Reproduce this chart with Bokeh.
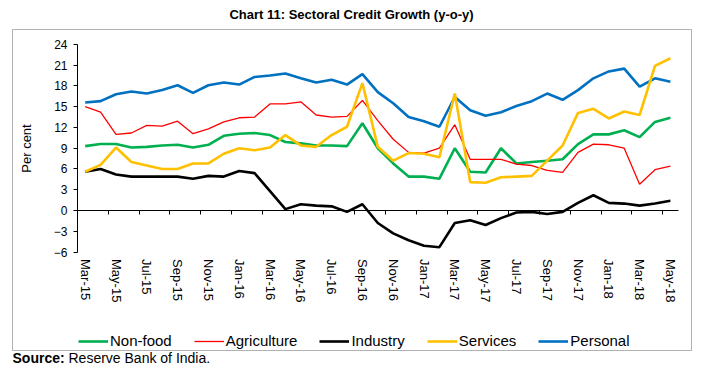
from bokeh.plotting import figure
from bokeh.models import (FixedTicker, LinearAxis, Legend, LegendItem, Label,
                          BoxAnnotation, Range1d)
from bokeh.embed import file_html
from bokeh.resources import INLINE

# ---------------- data ----------------
months = ["Mar-15", "Apr-15", "May-15", "Jun-15", "Jul-15", "Aug-15", "Sep-15",
          "Oct-15", "Nov-15", "Dec-15", "Jan-16", "Feb-16", "Mar-16", "Apr-16",
          "May-16", "Jun-16", "Jul-16", "Aug-16", "Sep-16", "Oct-16", "Nov-16",
          "Dec-16", "Jan-17", "Feb-17", "Mar-17", "Apr-17", "May-17", "Jun-17",
          "Jul-17", "Aug-17", "Sep-17", "Oct-17", "Nov-17", "Dec-17", "Jan-18",
          "Feb-18", "Mar-18", "Apr-18", "May-18"]

non_food = [9.3, 9.6, 9.6, 9.1, 9.2, 9.4, 9.5, 9.1, 9.5, 10.8, 11.1, 11.2, 10.9,
            9.9, 9.7, 9.4, 9.4, 9.3, 12.6, 9.0, 6.8, 4.9, 4.9, 4.6, 9.0, 5.6,
            5.5, 9.0, 6.8, 7.0, 7.2, 7.4, 9.6, 11.0, 11.0, 11.6, 10.6, 12.8, 13.4]
agriculture = [15.0, 14.2, 11.0, 11.2, 12.3, 12.2, 12.9, 11.1, 11.8, 12.8, 13.4,
               13.5, 15.4, 15.4, 15.7, 13.8, 13.5, 13.6, 15.9, 13.0, 10.3, 8.4,
               8.3, 9.0, 12.4, 7.4, 7.4, 7.4, 6.7, 6.5, 5.8, 5.5, 8.4, 9.6, 9.5,
               9.0, 3.8, 5.9, 6.4]
industry = [5.6, 6.0, 5.2, 4.9, 4.9, 4.9, 4.9, 4.6, 5.0, 4.9, 5.7, 5.4, 2.8, 0.2,
            0.9, 0.7, 0.6, -0.2, 0.9, -1.8, -3.3, -4.3, -5.1, -5.3, -1.8, -1.4,
            -2.1, -1.1, -0.3, -0.2, -0.5, -0.2, 1.1, 2.2, 1.1, 1.0, 0.7, 1.0, 1.4]
services = [5.6, 6.6, 9.1, 7.0, 6.5, 6.0, 6.0, 6.8, 6.8, 8.2, 9.0, 8.7, 9.1, 10.9,
            9.4, 9.2, 10.9, 12.1, 18.4, 9.2, 7.2, 8.3, 8.2, 7.7, 16.9, 4.1, 4.0,
            4.8, 4.9, 5.0, 7.2, 9.4, 14.1, 14.7, 13.3, 14.3, 13.8, 20.9, 22.0]
personal = [15.6, 15.8, 16.8, 17.2, 16.9, 17.4, 18.1, 17.0, 18.1, 18.5, 18.2,
            19.3, 19.5, 19.8, 19.1, 18.5, 18.9, 18.2, 19.7, 17.1, 15.5, 13.5,
            12.9, 12.1, 16.4, 14.5, 13.7, 14.2, 15.1, 15.8, 16.9, 16.0, 17.4,
            19.1, 20.1, 20.5, 17.9, 19.1, 18.6]

y_ticks = [-6, -3, 0, 3, 6, 9, 12, 15, 18, 21, 24]
y_min, y_max = -6, 24

title_text = "Chart 11: Sectoral Credit Growth (y-o-y)"
y_label = "Per cent"
source_bold = "Source:"
source_text = "Reserve Bank of India."

# ---------------- geometry (pixels on the canvas) ----------------
W, H = 693, 364
X0_PX, DX_PX = 84.7, 15.4      # pixel of first category, pixels per category
Y0_PX, DY_PX = 210.0, 6.92     # pixel of value 0, pixels per unit
FONT = "Liberation Sans"

def fx(px):
    return (px - X0_PX) / DX_PX
def fy(py):
    return (Y0_PX - py) / DY_PX

n = len(months)
x = list(range(n))
xr = Range1d(fx(0), fx(W))
yr = Range1d(fy(H), fy(0))

p = figure(width=W, height=H, x_range=xr, y_range=yr, output_backend="svg",
           toolbar_location=None, x_axis_location=None, y_axis_location=None,
           min_border=0, background_fill_color="white",
           border_fill_color="white")
p.title.visible = False
p.outline_line_color = None
p.grid.visible = False

# y axis (drawn at the left edge of the category area)
ya = LinearAxis(fixed_location=-0.5, bounds=(y_min, y_max),
                ticker=FixedTicker(ticks=y_ticks),
                major_tick_out=4, major_tick_in=0, minor_tick_line_color=None,
                axis_line_color="black", major_tick_line_color="black",
                major_label_standoff=6, major_label_text_font=FONT,
                major_label_text_font_size="12px",
                major_label_text_color="black",
                axis_label=y_label, axis_label_text_font=FONT,
                axis_label_text_font_size="13px",
                axis_label_text_font_style="normal",
                axis_label_text_color="black", axis_label_standoff=17)
p.add_layout(ya, "left")

# x labels at the bottom of the value area
lab_ticks = list(range(0, n, 2))
xa_lab = LinearAxis(fixed_location=y_min, ticker=FixedTicker(ticks=lab_ticks),
                    major_label_overrides={i: months[i] for i in lab_ticks},
                    major_label_orientation="vertical",
                    axis_line_color=None, major_tick_line_color=None,
                    minor_tick_line_color=None, major_tick_out=0,
                    major_tick_in=0, major_label_standoff=7,
                    major_label_text_font=FONT,
                    major_label_text_font_size="13px",
                    major_label_text_color="black")
p.add_layout(xa_lab, "below")

# x axis line with ticks at y = 0
bound_ticks = [i + 1.5 for i in range(0, n - 1, 2)]
xa_line = LinearAxis(fixed_location=0, bounds=(-0.5, n - 0.5),
                     ticker=FixedTicker(ticks=bound_ticks),
                     major_label_overrides={t: "" for t in bound_ticks},
                     axis_line_color="black", major_tick_line_color="black",
                     minor_tick_line_color=None, major_tick_out=4,
                     major_tick_in=0, major_label_text_font_size="1px")
p.add_layout(xa_line, "below")

# lines
r_pers = p.line(x, personal, line_color="#0070C0", line_width=2.6)
r_nf = p.line(x, non_food, line_color="#00B050", line_width=2.6)
r_agri = p.line(x, agriculture, line_color="#FF0000", line_width=1.3)
r_ind = p.line(x, industry, line_color="#000000", line_width=2.6)
r_serv = p.line(x, services, line_color="#FFC000", line_width=2.6)

legend = Legend(items=[LegendItem(label="Non-food", renderers=[r_nf]),
                       LegendItem(label="Agriculture", renderers=[r_agri]),
                       LegendItem(label="Industry", renderers=[r_ind]),
                       LegendItem(label="Services", renderers=[r_serv]),
                       LegendItem(label="Personal", renderers=[r_pers])],
                orientation="horizontal", location=(78, H - 349),
                glyph_width=30, glyph_height=16, label_standoff=2,
                spacing=22, padding=0, margin=0,
                border_line_color=None, background_fill_alpha=0,
                label_text_font=FONT, label_text_font_size="15px",
                label_text_color="black", label_height=16)
p.add_layout(legend, "center")

# outer box around plot + legend
box = BoxAnnotation(left=fx(12), right=fx(691), top=fy(29), bottom=fy(350),
                    fill_alpha=0, fill_color=None, line_color="black",
                    line_width=1)
p.add_layout(box)

# title
p.add_layout(Label(x=fx(351), y=fy(14), text=title_text, text_align="center",
                   text_baseline="middle", text_font=FONT,
                   text_font_style="bold", text_font_size="13px",
                   text_color="black"))
# source
p.add_layout(Label(x=fx(12), y=fy(357), text=source_bold, text_align="left",
                   text_baseline="middle", text_font=FONT,
                   text_font_style="bold", text_font_size="14px",
                   text_color="black"))
p.add_layout(Label(x=fx(68), y=fy(357), text=source_text, text_align="left",
                   text_baseline="middle", text_font=FONT,
                   text_font_size="14px", text_color="black"))

open("out.html", "w").write(file_html(p, INLINE))
